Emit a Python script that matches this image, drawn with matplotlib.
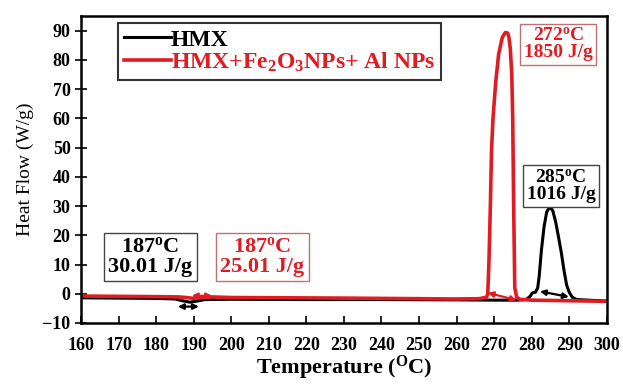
import matplotlib
matplotlib.use("Agg")
from matplotlib import pyplot as plt

plt.rcParams['font.family'] = 'Liberation Serif'
plt.rcParams['font.weight'] = 'bold'
plt.rcParams['mathtext.fontset'] = 'custom'
plt.rcParams['mathtext.rm'] = 'Liberation Serif:bold'
plt.rcParams['mathtext.bf'] = 'Liberation Serif:bold'
plt.rcParams['mathtext.it'] = 'Liberation Serif:bold'

# DSC curve of pure HMX
temp_hmx = [160, 170, 180, 185, 187, 189, 191, 193, 200, 220, 240, 260, 270,
            276, 278.5, 279.5, 280.2, 281.0, 281.6, 282.0, 282.6, 283.3, 284.0,
            284.8, 285.6, 286.4, 287.2, 287.9, 288.6, 289.3, 290.0, 290.8, 292, 300]
flow_hmx = [-1.4, -1.5, -1.6, -1.8, -2.4, -2.9, -2.5, -2.0, -1.9, -2.0, -2.0, -2.1, -2.2,
            -2.2, -2.0, -1.0, 0.3, 0.5, 2.0, 6.0, 15.0, 23.0, 28.0,
            29.7, 28.5, 24.5, 19.0, 14.0, 8.0, 3.0, 0.5, -1.2, -2.0, -2.5]

# DSC curve of HMX + Fe2O3 NPs + Al NPs
temp_mix = [160, 170, 180, 186, 188, 190, 192, 195, 200, 230, 260, 266, 268.0,
            268.3, 268.6, 269.0, 269.3, 269.7, 270.4, 271.2, 272.2, 273.0, 273.6,
            273.9, 274.3, 274.7, 274.95, 275.2, 275.5, 276.0, 276.8, 280, 290, 300]
flow_mix = [-0.8, -0.9, -1.0, -1.1, -1.3, -1.6, -1.4, -1.1, -1.3, -1.5, -1.8, -1.7, -1.2,
            0.0, 10.0, 30.0, 49.0, 60.0, 72.0, 82.0, 87.8, 89.4, 89.2,
            88.0, 84.0, 75.0, 60.0, 30.0, 2.0, -1.2, -1.9, -2.2, -2.4, -2.6]

mix_label = r'HMX+Fe$_{\mathbf{2}}$O$_{\mathbf{3}}$NPs+ Al NPs'

fig = plt.figure(figsize=(6.23, 3.84), dpi=100)
ax = fig.add_axes([0.130, 0.159, 0.844, 0.799])

ax.plot(temp_hmx, flow_hmx, color='black', lw=2.2, label='HMX')
ax.plot(temp_mix, flow_mix, color='#e01b22', lw=2.6, label=mix_label)

# integration range arrows
arrow_kw = dict(arrowstyle='<|-|>', mutation_scale=8, lw=1.6, shrinkA=0, shrinkB=0)
ax.annotate('', xy=(185.8, -4.4), xytext=(191.4, -4.4),
            arrowprops=dict(color='black', **arrow_kw))
ax.annotate('', xy=(189.5, -0.7), xytext=(194.9, -0.7),
            arrowprops=dict(color='#e01b22', **arrow_kw))
ax.annotate('', xy=(268.3, 0.3), xytext=(276.0, -2.2),
            arrowprops=dict(color='#e01b22', **arrow_kw))
ax.annotate('', xy=(282.2, 0.8), xytext=(289.9, -1.1),
            arrowprops=dict(color='black', **arrow_kw))

box_black = dict(boxstyle='square,pad=0.2', fc='white', ec='#444444', lw=1.0)
box_red = dict(boxstyle='square,pad=0.2', fc='white', ec='#c07070', lw=1.0)
ax.text(178.4, 12.6, '187$^{\\mathbf{o}}$C\n30.01 J/g', color='black', fontsize=16,
        ha='center', va='center', linespacing=0.95, bbox=box_black)
ax.text(208.2, 12.6, '187$^{\\mathbf{o}}$C\n25.01 J/g', color='#e01b22', fontsize=16,
        ha='center', va='center', linespacing=0.95, bbox=box_red)
ax.text(287.0, 85.3, '272$^{\\mathbf{o}}$C\n1850 J/g', color='#e01b22', fontsize=14,
        ha='center', va='center', linespacing=0.95, bbox=box_red)
ax.text(287.8, 36.9, '285$^{\\mathbf{o}}$C\n1016 J/g', color='black', fontsize=14,
        ha='center', va='center', linespacing=0.95, bbox=box_black)

ax.set_xlim(160, 300)
ax.set_ylim(-10, 95)
ax.set_xticks(range(160, 301, 10))
ax.set_yticks(range(-10, 91, 10))
ax.tick_params(axis='x', direction='in', length=5, width=1.2, labelsize=13, pad=10)
ax.tick_params(axis='y', direction='inout', length=8, width=1.2, labelsize=13)
for sp in ax.spines.values():
    sp.set_linewidth(1.8)

ax.set_xlabel('Temperature ($^{\\mathbf{O}}$C)', fontsize=16, fontweight='bold', labelpad=0)
ax.set_ylabel('Heat Flow (W/g)', fontsize=14, fontweight='normal', labelpad=6)

leg = ax.legend(loc='upper left', bbox_to_anchor=(0.070, 0.977), borderaxespad=0,
                fancybox=False, edgecolor='black', fontsize=17, handlelength=2.0,
                handletextpad=0.0, labelspacing=0.0, borderpad=0.25)
leg.get_frame().set_linewidth(1.5)
for txt, col in zip(leg.get_texts(), ['black', '#e01b22']):
    txt.set_color(col)

fig.savefig('out.png', dpi=100)
